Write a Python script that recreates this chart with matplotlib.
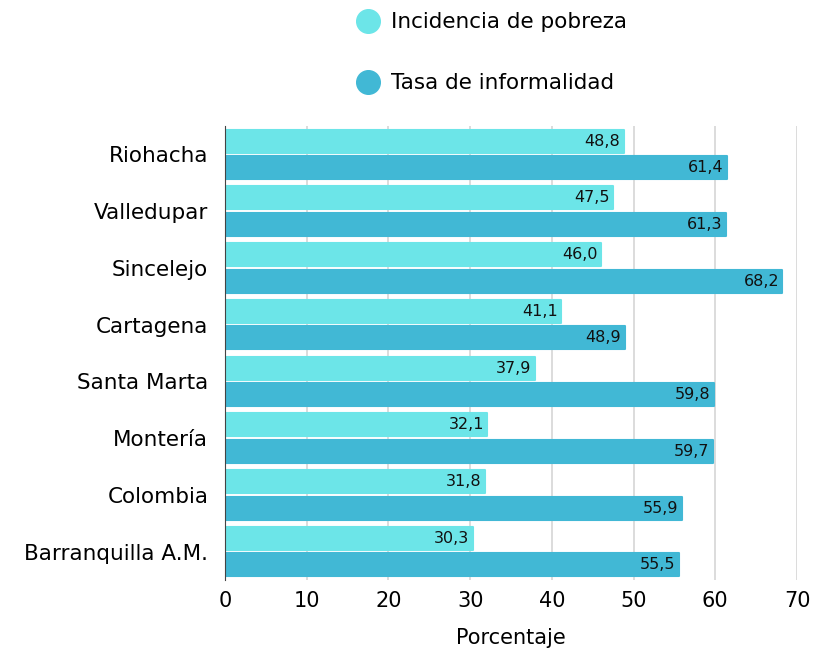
import matplotlib
matplotlib.use("Agg")
import matplotlib.pyplot as plt
from matplotlib.lines import Line2D

plt.rcParams['font.family'] = ['DejaVu Sans']

# Data
ciudades = ["Riohacha", "Valledupar", "Sincelejo", "Cartagena", "Santa Marta",
            "Montería", "Colombia", "Barranquilla A.M."]
pobreza = [48.8, 47.5, 46.0, 41.1, 37.9, 32.1, 31.8, 30.3]
informalidad = [61.4, 61.3, 68.2, 48.9, 59.8, 59.7, 55.9, 55.5]
series_names = ["Incidencia de pobreza", "Tasa de informalidad"]
colores = ["#6CE5E8", "#41B8D5"]

fig = plt.figure(figsize=(8.14, 6.49), dpi=100)
ax = fig.add_axes([225/814, 1-580/649, (797-225)/814, 454/649])

y = list(range(len(ciudades)))
h = 0.405
off = 0.233
b1 = ax.barh([v - off for v in y], pobreza, height=h, color=colores[0],
             edgecolor=colores[0], linewidth=1.5, joinstyle="round", zorder=3)
b2 = ax.barh([v + off for v in y], informalidad, height=h, color=colores[1],
             edgecolor=colores[1], linewidth=1.5, joinstyle="round", zorder=3)

# labels inside bar ends
for bars, vals in [(b1, pobreza), (b2, informalidad)]:
    for bar, v in zip(bars, vals):
        ax.text(bar.get_width() - 0.4, bar.get_y() + bar.get_height()/2,
                f"{v:.1f}".replace(".", ","), ha="right", va="center",
                fontsize=11.5, color="#111111", zorder=4)

ax.set_xlim(0, 70)
ax.set_ylim(len(ciudades) - 0.5, -0.5)
ax.set_yticks(y)
ax.set_yticklabels(ciudades, fontsize=15.5)
ax.set_xticks(range(0, 71, 10))
ax.tick_params(axis="x", labelsize=15, length=0, pad=8)
ax.tick_params(axis="y", length=0, pad=12)
ax.grid(axis="x", color="#D9D9D9", linewidth=1.3, zorder=0)
for s in ["top", "right", "bottom"]:
    ax.spines[s].set_visible(False)
ax.spines["left"].set_color("#444444")
ax.spines["left"].set_linewidth(0.8)
ax.spines["left"].set_zorder(5)
ax.set_xlabel("Porcentaje", fontsize=15, labelpad=12)

# legend
handles = [Line2D([], [], marker="o", linestyle="", markersize=17, color=c) for c in colores]
fig.legend(handles, series_names, loc="upper left", bbox_to_anchor=(331/814, 1.004),
           frameon=False, fontsize=15.5, labelspacing=1.9, handletextpad=0.1,
           borderaxespad=0.3)

plt.savefig("out.png", dpi=100)
